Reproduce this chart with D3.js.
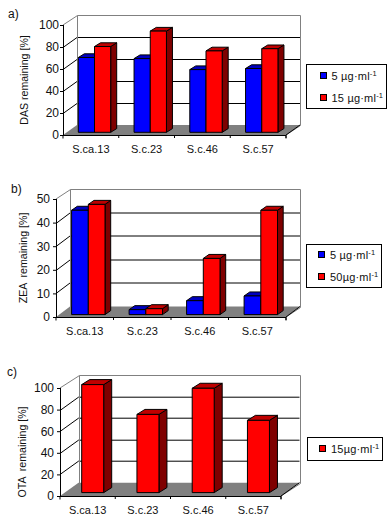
<!DOCTYPE html>
<html>
<head>
<meta charset="utf-8">
<script src="https://cdn.jsdelivr.net/npm/d3@7"></script>
<style>
  html, body { margin: 0; padding: 0; background: #fff; }
  text { font-family: "Liberation Sans", Arial, sans-serif; fill: #111; white-space: pre; }
  .domain { stroke: #000; }
  .tick line { stroke: #000; }
</style>
</head>
<body>
<div class="canvas"></div>
<script>
const width = 391;
const height = 528;

const categories = ['S.ca.13', 'S.c.23', 'S.c.46', 'S.c.57'];

const dasLow = [68, 67, 57, 58];
const dasHigh = [78, 92, 74, 76];
const zeaLow = [44.2, 2.1, 5.9, 7.9];
const zeaHigh = [46.7, 2.5, 23.8, 44.2];
const otaHigh = [100, 72.4, 96.6, 66.9];

const ticksPercent = [0, 20, 40, 60, 80, 100];
const ticksZea = [0, 10, 20, 30, 40, 50];

const blue = { front: '#0000ff', top: '#0000bf', side: '#00007f' };
const red = { front: '#ff0000', top: '#bf0000', side: '#7f0000' };

const canvas = d3
  .select('.canvas')
  .append('svg')
  .attr('width', width)
  .attr('height', height)
  .style('display', 'block');

const panels = [
  {
    tag: 'a)', tagX: 8, tagY: 18,
    title: 'DAS remaining [%]', titleX: 27.5, titleY: 80,
    left: 63, right: 286, bottom: 135, top: 25, labelPad: 1,
    depthX: 14, depthY: 10, barDepthX: 6, barDepthY: 3.7,
    barLift: 2.7, barOffset: 15.3, barWidth: 16.2,
    yMax: 100, ticks: ticksPercent,
    series: [{ values: dasLow, colors: blue }, { values: dasHigh, colors: red }],
    legend: { x: 306.5, y: 64.5, w: 80, h: 44, swatchX: 320, textX: 331.5 },
    legendLabels: ['5 µg·ml', '15 µg·ml']
  },
  {
    tag: 'b)', tagX: 11, tagY: 193,
    title: 'ZEA  remaining [%]', titleX: 27, titleY: 258,
    left: 56, right: 286, bottom: 317, top: 199, labelPad: 3,
    depthX: 14, depthY: 10.5, barDepthX: 5.7, barDepthY: 4,
    barLift: 2.4, barOffset: 15.6, barWidth: 16.7,
    yMax: 50, ticks: ticksZea,
    series: [{ values: zeaLow, colors: blue }, { values: zeaHigh, colors: red }],
    legend: { x: 306.5, y: 244.5, w: 75, h: 43, swatchX: 318, textX: 330 },
    legendLabels: ['5 µg·ml', '50µg·ml']
  },
  {
    tag: 'c)', tagX: 7, tagY: 376,
    title: 'OTA  remaining [%]', titleX: 25.5, titleY: 452,
    left: 60, right: 281, bottom: 496, top: 388, labelPad: 3,
    depthX: 18.5, depthY: 13.3, barDepthX: 8, barDepthY: 5,
    barLift: 3.4, barOffset: 21.7, barWidth: 22,
    yMax: 100, ticks: ticksPercent,
    series: [{ values: otaHigh, colors: red }],
    legend: { x: 307.5, y: 437.5, w: 75, h: 23, swatchX: 319, textX: 331 },
    legendLabels: ['15µg·ml']
  }
];

panels.forEach(drawPanel);

function drawPanel(p) {
  const g = canvas.append('g');

  const xScale = d3.scaleBand().domain(categories).range([p.left, p.right]);
  const yScale = d3.scaleLinear().domain([0, p.yMax]).range([p.bottom, p.top]);
  const barScale = d3
    .scaleBand()
    .domain(d3.range(p.series.length))
    .range([0, p.barWidth * p.series.length]);

  // Back wall and floor
  const wall = g.append('g');
  wall
    .append('polygon')
    .attr('fill', '#808080')
    .attr(
      'points',
      [
        [p.left, p.bottom],
        [p.left + p.depthX, p.bottom - p.depthY],
        [p.right + p.depthX, p.bottom - p.depthY],
        [p.right, p.bottom]
      ].join(' ')
    );

  // Grid lines: diagonal on the side wall, flat on the back wall
  p.ticks.slice(1, -1).forEach((t) => {
    const y = Math.round(yScale(t)) + 0.5;
    wall
      .append('line')
      .attr('x1', p.left)
      .attr('y1', y)
      .attr('x2', p.left + p.depthX)
      .attr('y2', y - p.depthY)
      .attr('stroke', '#000');
    wall
      .append('line')
      .attr('x1', p.left + p.depthX)
      .attr('y1', y - p.depthY)
      .attr('x2', p.right + p.depthX)
      .attr('y2', y - p.depthY)
      .attr('stroke', '#000');
  });

  const backLeft = Math.round(p.left + p.depthX) + 0.5;
  const backRight = Math.round(p.right + p.depthX) + 0.5;
  const backTop = Math.round(p.top - p.depthY) + 0.5;
  const backBottom = Math.round(p.bottom - p.depthY) + 0.5;

  wall
    .append('path')
    .attr(
      'd',
      `M${p.left},${p.top}L${backLeft},${backTop}H${backRight}V${backBottom}L${p.right},${p.bottom}`
    )
    .attr('fill', 'none')
    .attr('stroke', '#808080');
  wall
    .append('line')
    .attr('x1', backLeft)
    .attr('x2', backLeft)
    .attr('y1', backTop)
    .attr('y2', backBottom)
    .attr('stroke', '#808080');

  // Axes
  const yAxis = d3
    .axisLeft()
    .scale(yScale)
    .tickValues(p.ticks)
    .tickSize(3)
    .tickPadding(p.labelPad);
  const xAxis = d3.axisBottom().scale(xScale).tickSize(3).tickPadding(7);

  const yG = g
    .append('g')
    .attr('transform', `translate(${p.left},0)`)
    .call(yAxis);
  yG.select('.domain').attr('d', `M0.5,${p.top}V${p.bottom}`);
  yG.selectAll('text').style('font-size', '12px');

  const xG = g
    .append('g')
    .attr('transform', `translate(0,${p.bottom})`)
    .call(xAxis);
  xG.selectAll('.tick line')
    .attr('x1', xScale.bandwidth() / 2)
    .attr('x2', xScale.bandwidth() / 2);
  xG.select('.domain').attr('d', `M${p.left},3.5V0.5H${p.right}V3.5`);
  xG.selectAll('text').style('font-size', '11px');

  g.append('line')
    .attr('x1', p.right)
    .attr('y1', p.bottom)
    .attr('x2', p.right + p.depthX)
    .attr('y2', p.bottom - p.depthY)
    .attr('stroke', '#000');

  // Bars
  categories.forEach((cat, i) => {
    p.series.forEach((s, j) => {
      const x0 = xScale(cat) + p.barOffset + barScale(j);
      const x1 = x0 + barScale.bandwidth();
      const base = p.bottom - p.barLift;
      const top = yScale(s.values[i]) - p.barLift;
      const bar = g.append('g').attr('stroke', '#000').attr('stroke-linejoin', 'round');

      bar
        .append('polygon')
        .attr('fill', s.colors.side)
        .attr(
          'points',
          [
            [x1, top],
            [x1 + p.barDepthX, top - p.barDepthY],
            [x1 + p.barDepthX, base - p.barDepthY],
            [x1, base]
          ].join(' ')
        );
      bar
        .append('polygon')
        .attr('fill', s.colors.top)
        .attr(
          'points',
          [
            [x0, top],
            [x0 + p.barDepthX, top - p.barDepthY],
            [x1 + p.barDepthX, top - p.barDepthY],
            [x1, top]
          ].join(' ')
        );
      bar
        .append('rect')
        .attr('x', x0)
        .attr('y', top)
        .attr('width', x1 - x0)
        .attr('height', base - top)
        .attr('fill', s.colors.front);
    });
  });

  // Labels
  g.append('text')
    .attr('x', p.tagX)
    .attr('y', p.tagY)
    .style('font-size', '12px')
    .text(p.tag);

  g.append('text')
    .attr('transform', `translate(${p.titleX},${p.titleY}) rotate(-90)`)
    .attr('text-anchor', 'middle')
    .style('font-size', '10.6px')
    .text(p.title);

  // Legend
  const l = p.legend;
  const lg = g.append('g');
  lg.append('rect')
    .attr('x', l.x)
    .attr('y', l.y)
    .attr('width', l.w)
    .attr('height', l.h)
    .attr('fill', '#fff')
    .attr('stroke', '#000');

  const rowStep = l.h / p.series.length;
  p.series.forEach((s, j) => {
    const cy = l.y + rowStep * (j + 0.5);
    lg.append('rect')
      .attr('x', l.swatchX + 0.5)
      .attr('y', Math.round(cy - 4) + 0.5)
      .attr('width', 6)
      .attr('height', 6)
      .attr('fill', s.colors.front)
      .attr('stroke', '#000');
    const label = lg
      .append('text')
      .attr('x', l.textX)
      .attr('y', cy + 4)
      .style('font-size', '11px')
      .style('letter-spacing', '0.2px');
    label.append('tspan').text(p.legendLabels[j]);
    label
      .append('tspan')
      .attr('dy', -4)
      .style('font-size', '7.5px')
      .text('-1');
  });
}
</script>
</body>
</html>
